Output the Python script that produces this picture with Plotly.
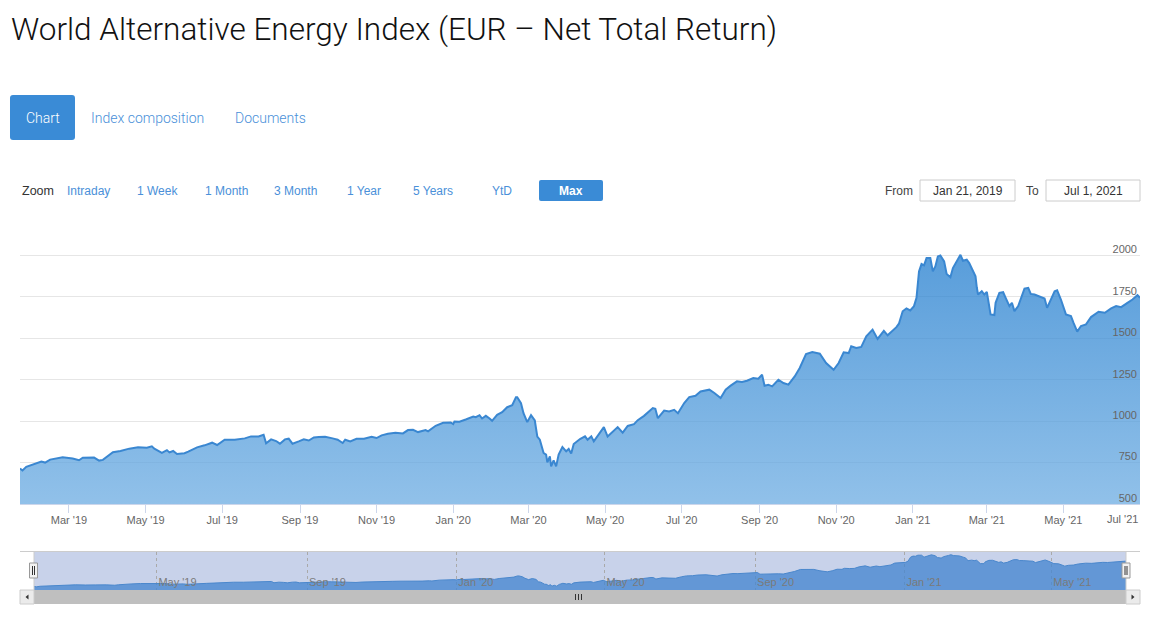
import plotly.graph_objects as go

W, H = 1155, 631

# ---------------- data ----------------
dates = [
    "2019-01-21", "2019-01-23", "2019-01-26", "2019-02-02", "2019-02-07", "2019-02-10", "2019-02-14",
    "2019-02-24", "2019-03-04", "2019-03-09", "2019-03-12", "2019-03-21", "2019-03-25", "2019-03-28",
    "2019-03-31", "2019-04-05", "2019-04-11", "2019-04-18", "2019-04-25", "2019-05-02", "2019-05-06",
    "2019-05-08", "2019-05-14", "2019-05-18", "2019-05-20", "2019-05-23", "2019-05-26", "2019-06-01",
    "2019-06-04", "2019-06-11", "2019-06-17", "2019-06-23", "2019-06-27", "2019-07-03", "2019-07-11",
    "2019-07-19", "2019-07-24", "2019-07-30", "2019-08-03", "2019-08-05", "2019-08-09", "2019-08-13",
    "2019-08-16", "2019-08-20", "2019-08-23", "2019-08-26", "2019-08-31", "2019-09-04", "2019-09-08",
    "2019-09-12", "2019-09-16", "2019-09-21", "2019-09-27", "2019-10-01", "2019-10-05", "2019-10-07",
    "2019-10-11", "2019-10-16", "2019-10-22", "2019-10-28", "2019-11-01", "2019-11-05", "2019-11-10",
    "2019-11-16", "2019-11-22", "2019-11-26", "2019-11-30", "2019-12-04", "2019-12-10", "2019-12-12",
    "2019-12-18", "2019-12-24", "2019-12-30", "2020-01-01", "2020-01-02", "2020-01-06", "2020-01-11",
    "2020-01-17", "2020-01-19", "2020-01-22", "2020-01-24", "2020-01-27", "2020-01-30", "2020-02-01",
    "2020-02-05", "2020-02-09", "2020-02-13", "2020-02-17", "2020-02-20", "2020-02-21", "2020-02-24",
    "2020-02-26", "2020-02-29", "2020-03-03", "2020-03-06", "2020-03-08", "2020-03-10", "2020-03-13",
    "2020-03-15", "2020-03-16", "2020-03-18", "2020-03-19", "2020-03-21", "2020-03-23", "2020-03-25",
    "2020-03-28", "2020-03-31", "2020-04-02", "2020-04-04", "2020-04-06", "2020-04-11", "2020-04-15",
    "2020-04-17", "2020-04-20", "2020-04-22", "2020-04-26", "2020-04-30", "2020-05-03", "2020-05-07",
    "2020-05-11", "2020-05-15", "2020-05-19", "2020-05-24", "2020-05-27", "2020-06-01", "2020-06-08",
    "2020-06-10", "2020-06-12", "2020-06-17", "2020-06-21", "2020-06-25", "2020-06-28", "2020-07-03",
    "2020-07-07", "2020-07-12", "2020-07-16", "2020-07-23", "2020-07-27", "2020-08-01", "2020-08-05",
    "2020-08-09", "2020-08-14", "2020-08-18", "2020-08-22", "2020-08-27", "2020-08-31", "2020-09-03",
    "2020-09-05", "2020-09-08", "2020-09-11", "2020-09-16", "2020-09-20", "2020-09-24", "2020-09-29",
    "2020-10-03", "2020-10-08", "2020-10-13", "2020-10-19", "2020-10-24", "2020-10-30", "2020-11-03",
    "2020-11-07", "2020-11-11", "2020-11-13", "2020-11-17", "2020-11-21", "2020-11-25", "2020-11-30",
    "2020-12-04", "2020-12-09", "2020-12-12", "2020-12-16", "2020-12-19", "2020-12-21", "2020-12-24",
    "2020-12-27", "2020-12-30", "2021-01-02", "2021-01-04", "2021-01-06", "2021-01-08", "2021-01-10",
    "2021-01-12", "2021-01-15", "2021-01-17", "2021-01-19", "2021-01-21", "2021-01-23", "2021-01-26",
    "2021-01-28", "2021-01-31", "2021-02-02", "2021-02-06", "2021-02-08", "2021-02-10", "2021-02-13",
    "2021-02-15", "2021-02-18", "2021-02-20", "2021-02-21", "2021-02-22", "2021-02-25", "2021-02-27",
    "2021-03-01", "2021-03-04", "2021-03-07", "2021-03-08", "2021-03-11", "2021-03-14", "2021-03-16",
    "2021-03-19", "2021-03-21", "2021-03-23", "2021-03-26", "2021-03-28", "2021-03-31", "2021-04-03",
    "2021-04-05", "2021-04-08", "2021-04-11", "2021-04-13", "2021-04-16", "2021-04-18", "2021-04-21",
    "2021-04-24", "2021-04-26", "2021-04-29", "2021-05-03", "2021-05-07", "2021-05-09", "2021-05-12",
    "2021-05-15", "2021-05-19", "2021-05-23", "2021-05-29", "2021-06-03", "2021-06-08", "2021-06-12",
    "2021-06-16", "2021-06-21", "2021-06-25", "2021-06-29", "2021-07-01",
]
values = [
    714, 702, 724, 740, 756, 750, 768,
    782, 775, 764, 779, 780, 762, 766,
    784, 812, 820, 834, 842, 840, 848,
    834, 808, 825, 811, 820, 802, 806,
    816, 842, 854, 870, 856, 888, 888,
    896, 908, 908, 918, 866, 890, 880,
    864, 890, 894, 864, 878, 890, 883,
    902, 904, 906, 896, 888, 868, 888,
    878, 894, 894, 906, 898, 914, 924,
    930, 926, 946, 948, 934, 946, 938,
    972, 990, 992, 982, 998, 996, 1010,
    1028, 1024, 1036, 1016, 1032, 1016, 1002,
    1038, 1054, 1084, 1096, 1144, 1144, 1108,
    1048, 994, 1036, 1004, 907, 888, 808,
    798, 751, 788, 727, 763, 727, 798,
    844, 818, 832, 804, 862, 892, 908,
    888, 908, 878, 925, 964, 907, 937,
    964, 931, 971, 982, 1006, 1032, 1079,
    1075, 1018, 1064, 1058, 1068, 1048, 1109,
    1145, 1153, 1179, 1190, 1170, 1139, 1190,
    1214, 1240, 1236, 1244, 1260, 1256, 1280,
    1214, 1220, 1210, 1250, 1230, 1220, 1270,
    1321, 1405, 1417, 1407, 1351, 1310, 1351,
    1415, 1411, 1452, 1442, 1448, 1512, 1552,
    1496, 1545, 1518, 1545, 1567, 1588, 1663,
    1680, 1668, 1694, 1744, 1904, 1948, 1940,
    1984, 1984, 1904, 1934, 1994, 2000, 1964,
    1888, 1868, 1924, 1974, 2004, 1968, 1974,
    1954, 1904, 1874, 1808, 1764, 1784, 1764,
    1780, 1644, 1640, 1714, 1774, 1778, 1744,
    1694, 1714, 1664, 1694, 1734, 1800, 1804,
    1768, 1764, 1754, 1748, 1740, 1684, 1734,
    1784, 1790, 1734, 1644, 1634, 1594, 1540,
    1574, 1584, 1628, 1660, 1654, 1680, 1694,
    1688, 1714, 1734, 1760, 1745,
]

x_tick_dates = ["2019-03-01", "2019-05-01", "2019-07-01", "2019-09-01", "2019-11-01",
                "2020-01-01", "2020-03-01", "2020-05-01", "2020-07-01", "2020-09-01",
                "2020-11-01", "2021-01-01", "2021-03-01", "2021-05-01", "2021-07-01"]
x_tick_labels = ["Mar '19", "May '19", "Jul '19", "Sep '19", "Nov '19",
                 "Jan '20", "Mar '20", "May '20", "Jul '20", "Sep '20",
                 "Nov '20", "Jan '21", "Mar '21", "May '21", "Jul '21"]
y_tick_values = [500, 750, 1000, 1250, 1500, 1750, 2000, 2250]
y_tick_labels = ["500", "750", "1000", "1250", "1500", "1750", "2000", ""]
nav_tick_dates = ["2019-05-01", "2019-09-01", "2020-01-01", "2020-05-01",
                  "2020-09-01", "2021-01-01", "2021-05-01"]
nav_tick_labels = ["May '19", "Sep '19", "Jan '20", "May '20", "Sep '20", "Jan '21", "May '21"]

title_text = "World Alternative Energy Index (EUR \u2013 Net Total Return)"
tab_labels = ["Chart", "Index composition", "Documents"]
zoom_label = "Zoom"
zoom_buttons = ["Intraday", "1 Week", "1 Month", "3 Month", "1 Year", "5 Years", "YtD", "Max"]
from_label, to_label = "From", "To"
date_from, date_to = "Jan 21, 2019", "Jul 1, 2021"

# ---------------- layout helpers (pixel -> paper) ----------------
def px(x):
    return x / W


def py(y):
    return 1 - y / H


THIN = "Roboto, Liberation Sans, Arial, sans-serif"
SANS = "Liberation Sans, Arial, Helvetica, sans-serif"
BLUE = "#3a8bd6"
LINK = "#4a90d9"

tab_centers = [42.5, 147.5, 270]
zoom_centers = [88, 157, 226, 295, 364, 433, 502, 571]

fig = go.Figure()

fig.add_trace(go.Scatter(
    x=dates, y=values, mode="lines", xaxis="x", yaxis="y",
    line=dict(color="#3a87d1", width=2),
    fill="tozeroy",
    fillgradient=dict(type="vertical", start=500, stop=2250,
                      colorscale=[[0, "rgba(108,172,226,0.75)"], [1, "rgba(21,117,203,0.75)"]]),
    hoverinfo="skip", showlegend=False,
))

fig.add_trace(go.Scatter(
    x=dates, y=values, mode="lines", xaxis="x2", yaxis="y2",
    line=dict(color="#4a87cc", width=1),
    fill="tozeroy", fillcolor="rgba(70,135,208,0.78)",
    hoverinfo="skip", showlegend=False,
))


def rrect(x0, y0, x1, y1, r):
    pts = [("M", x0 + r, y0), ("L", x1 - r, y0), ("Q", x1, y0, x1, y0 + r),
           ("L", x1, y1 - r), ("Q", x1, y1, x1 - r, y1), ("L", x0 + r, y1),
           ("Q", x0, y1, x0, y1 - r), ("L", x0, y0 + r), ("Q", x0, y0, x0 + r, y0)]
    s = ""
    for p in pts:
        cmd = p[0]
        coords = p[1:]
        parts = []
        for i in range(0, len(coords), 2):
            parts.append(f"{px(coords[i]):.6f},{py(coords[i + 1]):.6f}")
        s += cmd + " " + " ".join(parts) + " "
    return s + "Z"


shapes = []
# Chart tab & Max button
shapes.append(dict(type="path", xref="paper", yref="paper", path=rrect(10, 95, 75, 140, 3),
                   fillcolor=BLUE, line=dict(width=0)))
shapes.append(dict(type="path", xref="paper", yref="paper", path=rrect(539, 180, 603, 201, 2),
                   fillcolor=BLUE, line=dict(width=0)))
# date input boxes
for x0, x1 in [(920, 1015), (1046, 1140)]:
    shapes.append(dict(type="rect", xref="paper", yref="paper", x0=px(x0), x1=px(x1),
                       y0=py(201), y1=py(180), fillcolor="white", line=dict(color="#cccccc", width=1)))
# navigator mask background
shapes.append(dict(type="rect", xref="x2 domain", yref="y2 domain", x0=0, x1=1, y0=0, y1=1,
                   fillcolor="#c8d2ea", line=dict(width=0), layer="below"))
# navigator outline
shapes.append(dict(type="line", xref="paper", yref="paper", x0=px(20), x1=px(1140), y0=py(551.5), y1=py(551.5),
                   line=dict(color="#cccccc", width=1)))
for xx in (34, 1126):
    shapes.append(dict(type="line", xref="paper", yref="paper", x0=px(xx), x1=px(xx), y0=py(551), y1=py(590),
                       line=dict(color="#cccccc", width=1)))
# scrollbar
shapes.append(dict(type="rect", xref="paper", yref="paper", x0=px(34), x1=px(1126), y0=py(604), y1=py(590),
                   fillcolor="#bfbfbf", line=dict(width=0)))
for x0, x1 in [(20, 34), (1126, 1140)]:
    shapes.append(dict(type="rect", xref="paper", yref="paper", x0=px(x0), x1=px(x1), y0=py(604), y1=py(590),
                       fillcolor="#ebebeb", line=dict(color="#cccccc", width=1)))
shapes.append(dict(type="path", xref="paper", yref="paper",
                   path=f"M {px(25.5)},{py(597)} L {px(28.5)},{py(594.5)} L {px(28.5)},{py(599.5)} Z",
                   fillcolor="#333333", line=dict(width=0)))
shapes.append(dict(type="path", xref="paper", yref="paper",
                   path=f"M {px(1134.5)},{py(597)} L {px(1131.5)},{py(594.5)} L {px(1131.5)},{py(599.5)} Z",
                   fillcolor="#333333", line=dict(width=0)))
for gx in (575.5, 578.5, 581.5):
    shapes.append(dict(type="line", xref="paper", yref="paper", x0=px(gx), x1=px(gx), y0=py(594), y1=py(600),
                       line=dict(color="#333333", width=1)))
# navigator handles
for cx in (33.5, 1126):
    shapes.append(dict(type="rect", xref="paper", yref="paper", x0=px(cx - 4), x1=px(cx + 4),
                       y0=py(578), y1=py(563), fillcolor="#f2f2f2", line=dict(color="#999999", width=1)))
    for dx in (-1, 1):
        shapes.append(dict(type="line", xref="paper", yref="paper", x0=px(cx + dx), x1=px(cx + dx),
                           y0=py(566), y1=py(575), line=dict(color="#333333", width=1)))

annotations = []
annotations.append(dict(x=px(9), y=py(29), xref="paper", yref="paper", xanchor="left", yanchor="middle",
                        text=title_text, showarrow=False,
                        font=dict(family=THIN, size=31.5, weight=300, color="#111111")))
for i, (lab, cx) in enumerate(zip(tab_labels, tab_centers)):
    annotations.append(dict(x=px(cx), y=py(118), xref="paper", yref="paper", xanchor="center", yanchor="middle",
                            text=lab, showarrow=False,
                            font=dict(family=THIN, size=14, weight=300, color="white" if i == 0 else LINK)))
annotations.append(dict(x=px(20), y=py(191), xref="paper", yref="paper", xanchor="left", yanchor="middle",
                        text=zoom_label, showarrow=False, font=dict(family=SANS, size=12.5, color="#333333")))
for i, (lab, cx) in enumerate(zip(zoom_buttons, zoom_centers)):
    last = i == len(zoom_buttons) - 1
    annotations.append(dict(x=px(cx), y=py(190.5), xref="paper", yref="paper", xanchor="center", yanchor="middle",
                            text=f"<b>{lab}</b>" if last else lab, showarrow=False,
                            font=dict(family=SANS, size=12, color="white" if last else LINK)))
for lab, cx in [(from_label, 899), (date_from, 967.5), (to_label, 1032), (date_to, 1093)]:
    annotations.append(dict(x=px(cx), y=py(190.5), xref="paper", yref="paper", xanchor="center", yanchor="middle",
                            text=lab, showarrow=False,
                            font=dict(family=SANS, size=12, color="#333333" if lab in (date_from, date_to) else "#444444")))
# last x tick label, shifted inside like the original
annotations.append(dict(x=x_tick_dates[-1], y=py(519), xref="x", yref="paper", xanchor="right", yanchor="middle",
                        text=x_tick_labels[-1], showarrow=False, font=dict(family=SANS, size=11, color="#666666")))

fig.update_layout(
    width=W, height=H, autosize=False,
    margin=dict(l=0, r=0, t=0, b=0),
    paper_bgcolor="white", plot_bgcolor="rgba(0,0,0,0)",
    showlegend=False,
    xaxis=dict(domain=[px(20), px(1140)], anchor="y", type="date",
               range=[dates[0], dates[-1]],
               tickmode="array", tickvals=x_tick_dates, ticktext=x_tick_labels[:-1] + [""],
               showgrid=False, zeroline=False,
               showline=True, linecolor="#ccd6eb", linewidth=1,
               ticks="outside", ticklen=8, tickcolor="#ccd6eb", tickwidth=1,
               ticklabelstandoff=-2,
               tickfont=dict(family=SANS, size=11, color="#666666"),
               fixedrange=True),
    yaxis=dict(domain=[py(504), py(214)], anchor="x", side="right",
               range=[500, 2250],
               tickmode="array", tickvals=y_tick_values, ticktext=y_tick_labels,
               ticklabelposition="inside", ticklabelshift=-6,
               showgrid=True, gridcolor="#e6e6e6", gridwidth=1,
               zeroline=False, showline=False, ticks="",
               tickfont=dict(family=SANS, size=11, color="#666666"),
               fixedrange=True),
    xaxis2=dict(domain=[px(34), px(1126)], anchor="y2", type="date",
                range=[dates[0], dates[-1]],
                tickmode="array", tickvals=nav_tick_dates, ticktext=nav_tick_labels,
                ticklabelposition="inside right", ticklabelstandoff=-4, ticklabelshift=2,
                showgrid=True, gridcolor="#a9a9a9", gridwidth=1, griddash="dot",
                zeroline=False, showline=False, ticks="",
                tickfont=dict(family=SANS, size=11, color="#7a7a7a"),
                fixedrange=True),
    yaxis2=dict(domain=[py(590), py(551.5)], anchor="x2", range=[572, 2134],
                showgrid=False, zeroline=False, showline=False, showticklabels=False, ticks="",
                fixedrange=True),
    shapes=shapes,
    annotations=annotations,
)

fig.write_html("out.html", config={"displayModeBar": False})
